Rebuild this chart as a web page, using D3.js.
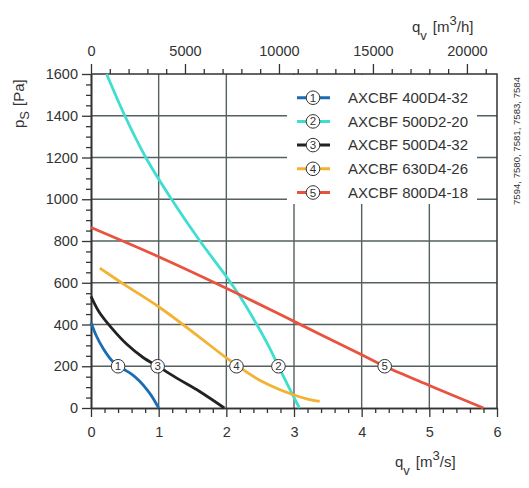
<!DOCTYPE html>
<html>
<head>
<meta charset="utf-8">
<script src="https://cdn.jsdelivr.net/npm/d3@7"></script>
<style>
  body { margin: 0; background: #fff; }
  text { font-family: "Liberation Sans", Arial, Helvetica, sans-serif; fill: #333; }
</style>
</head>
<body>
<div id="chart"></div>
<script>
// fan curves: [qv m3/s, ps Pa]
const names = ['AXCBF 400D4-32', 'AXCBF 500D2-20', 'AXCBF 500D4-32', 'AXCBF 630D4-26', 'AXCBF 800D4-18'];
const colors = ['#1b6db3', '#3fded0', '#222222', '#f3b233', '#e8523f'];

const curve1 = [[0, 410], [0.08, 345], [0.18, 285], [0.3, 230], [0.4, 200], [0.5, 182], [0.6, 162], [0.72, 128], [0.85, 78], [0.93, 40], [1.0, 0]];
const curve2 = [[0.23, 1600], [0.5, 1400], [0.81, 1200], [1.19, 1000], [1.61, 800], [2.0, 630], [2.2, 535], [2.45, 400], [2.62, 300], [2.77, 200], [2.93, 95], [3.08, 0]];
const curve3 = [[0, 535], [0.12, 460], [0.3, 385], [0.53, 305], [0.77, 242], [1.0, 197], [1.3, 137], [1.6, 80], [1.97, 0]];
const curve4 = [[0.13, 670], [0.5, 590], [1.0, 485], [1.5, 365], [2.0, 240], [2.15, 205], [2.5, 132], [3.0, 62], [3.2, 43], [3.38, 32]];
const curve5 = [[0, 865], [1.0, 725], [2.0, 574], [3.0, 415], [4.0, 255], [4.34, 200], [5.0, 108], [5.8, 0]];
const curves = [curve1, curve2, curve3, curve4, curve5];

// where the numbered markers sit on each curve
const markerQ = [0.40, 2.77, 0.985, 2.15, 4.34];
const markerP = 200;

const qTicks = [0, 1, 2, 3, 4, 5, 6];
const pTicks = [0, 200, 400, 600, 800, 1000, 1200, 1400, 1600];
const qhTicks = [0, 5000, 10000, 15000, 20000];
const codes = '7594, 7580, 7581, 7583, 7584';

const width = 529, height = 488;
const plotLeft = 91, plotRight = 497, plotTop = 74, plotBottom = 408;

const x = d3.scaleLinear().domain([0, 6]).range([plotLeft, plotRight]);
const xh = d3.scaleLinear().domain([0, 6 * 3600]).range([plotLeft, plotRight]);
const y = d3.scaleLinear().domain([0, 1600]).range([plotBottom, plotTop]);

const svg = d3.select('#chart').append('svg')
  .attr('width', width)
  .attr('height', height);

svg.append('rect').attr('width', width).attr('height', height).attr('fill', '#fff');

// grid
const grid = svg.append('g').attr('stroke', '#55605f').attr('stroke-width', 1.4);
grid.selectAll('line.v')
  .data(qTicks.filter(d => d > 0 && d < 6))
  .enter().append('line')
  .attr('x1', d => x(d)).attr('x2', d => x(d))
  .attr('y1', plotTop).attr('y2', plotBottom);
grid.selectAll('line.h')
  .data(pTicks.filter(d => d > 0 && d < 1600))
  .enter().append('line')
  .attr('x1', plotLeft).attr('x2', plotRight)
  .attr('y1', d => y(d)).attr('y2', d => y(d));

// frame on top and right
svg.append('path')
  .attr('d', `M${plotLeft},${plotTop}H${plotRight}V${plotBottom}`)
  .attr('fill', 'none')
  .attr('stroke', '#333')
  .attr('stroke-width', 1.5);

// legend background
svg.append('rect')
  .attr('x', 287).attr('y', plotTop + 1)
  .attr('width', 190).attr('height', 129)
  .attr('fill', '#fff');

// axes
const minorY = d3.range(0, 1601, 50).filter(d => d % 200 !== 0);
const minorX = d3.range(0, 6.01, 0.2).filter(d => Math.abs(d - Math.round(d)) > 1e-6);
const minorH = d3.range(0, 21601, 1000).filter(d => d % 5000 !== 0);
const fmt = d3.format('d');

function styleAxis(g) {
  g.select('.domain').attr('stroke', '#333').attr('stroke-width', 1.6);
  g.selectAll('.tick line').attr('stroke', '#333').attr('stroke-width', 1.3);
  g.selectAll('.tick text').style('font-size', '14.5px').attr('fill', '#333');
}

svg.append('g')
  .attr('transform', `translate(${plotLeft},0)`)
  .call(d3.axisLeft(y).tickValues(pTicks).tickFormat(fmt).tickSize(9).tickPadding(4).tickSizeOuter(0))
  .call(styleAxis);
svg.append('g')
  .attr('transform', `translate(${plotLeft},0)`)
  .call(d3.axisLeft(y).tickValues(minorY).tickSize(5).tickFormat('').tickSizeOuter(0))
  .call(styleAxis);

svg.append('g')
  .attr('transform', `translate(0,${plotBottom})`)
  .call(d3.axisBottom(x).tickValues(qTicks).tickFormat(fmt).tickSize(9).tickPadding(10).tickSizeOuter(0))
  .call(styleAxis);
svg.append('g')
  .attr('transform', `translate(0,${plotBottom})`)
  .call(d3.axisBottom(x).tickValues(minorX).tickSize(5).tickFormat('').tickSizeOuter(0))
  .call(styleAxis);

svg.append('g')
  .attr('transform', `translate(0,${plotTop})`)
  .call(d3.axisTop(xh).tickValues(qhTicks).tickFormat(fmt).tickSize(10).tickPadding(8).tickSizeOuter(0))
  .call(styleAxis)
  .call(g => g.select('.domain').remove());
svg.append('g')
  .attr('transform', `translate(0,${plotTop})`)
  .call(d3.axisTop(xh).tickValues(minorH).tickSize(5).tickFormat('').tickSizeOuter(0))
  .call(styleAxis)
  .call(g => g.select('.domain').remove());

// curves
const line = d3.line()
  .x(d => x(d[0]))
  .y(d => y(d[1]))
  .curve(d3.curveCatmullRom.alpha(0.5));

svg.append('g').selectAll('path')
  .data(curves)
  .enter().append('path')
  .attr('d', line)
  .attr('fill', 'none')
  .attr('stroke', (d, i) => colors[i])
  .attr('stroke-width', 2.8);

function marker(g, cx, cy, n) {
  g.append('circle')
    .attr('cx', cx).attr('cy', cy).attr('r', 6.8)
    .attr('fill', '#fff').attr('stroke', '#333').attr('stroke-width', 1);
  g.append('text')
    .attr('x', cx).attr('y', cy + 4)
    .attr('text-anchor', 'middle')
    .style('font-size', '11.5px')
    .text(n);
}

const markers = svg.append('g');
markerQ.forEach((q, i) => marker(markers, x(q), y(markerP), i + 1));

// legend
const legend = svg.append('g');
names.forEach((name, i) => {
  const ly = 97.7 + i * 23.7;
  legend.append('line')
    .attr('x1', 297).attr('x2', 330)
    .attr('y1', ly).attr('y2', ly)
    .attr('stroke', colors[i]).attr('stroke-width', 3);
  marker(legend, 313, ly, i + 1);
  legend.append('text')
    .attr('x', 348).attr('y', ly + 5.3)
    .style('font-size', '15px')
    .text(name);
});

// axis titles
const titleBottom = svg.append('text').attr('x', 395).attr('y', 467).style('font-size', '15px');
titleBottom.append('tspan').text('q');
titleBottom.append('tspan').attr('dy', 8).style('font-size', '13px').text('v');
titleBottom.append('tspan').attr('dy', -8).attr('dx', 6).text('[m');
titleBottom.append('tspan').attr('dy', -7).style('font-size', '13px').text('3');
titleBottom.append('tspan').attr('dy', 7).text('/s]');

const titleTop = svg.append('text').attr('x', 412).attr('y', 32).style('font-size', '15px');
titleTop.append('tspan').text('q');
titleTop.append('tspan').attr('dy', 8).style('font-size', '13px').text('v');
titleTop.append('tspan').attr('dy', -8).attr('dx', 6).text('[m');
titleTop.append('tspan').attr('dy', -7).style('font-size', '13px').text('3');
titleTop.append('tspan').attr('dy', 7).text('/h]');

const titleLeft = svg.append('text')
  .attr('transform', 'translate(24,128) rotate(-90)')
  .style('font-size', '15px');
titleLeft.append('tspan').text('p');
titleLeft.append('tspan').attr('dy', 5).style('font-size', '13px').text('S');
titleLeft.append('tspan').attr('dy', -5).attr('dx', 5).text('[Pa]');

svg.append('text')
  .attr('transform', 'translate(520,141) rotate(-90)')
  .attr('text-anchor', 'middle')
  .style('font-size', '9.6px')
  .attr('fill', '#444')
  .text(codes);
</script>
</body>
</html>
